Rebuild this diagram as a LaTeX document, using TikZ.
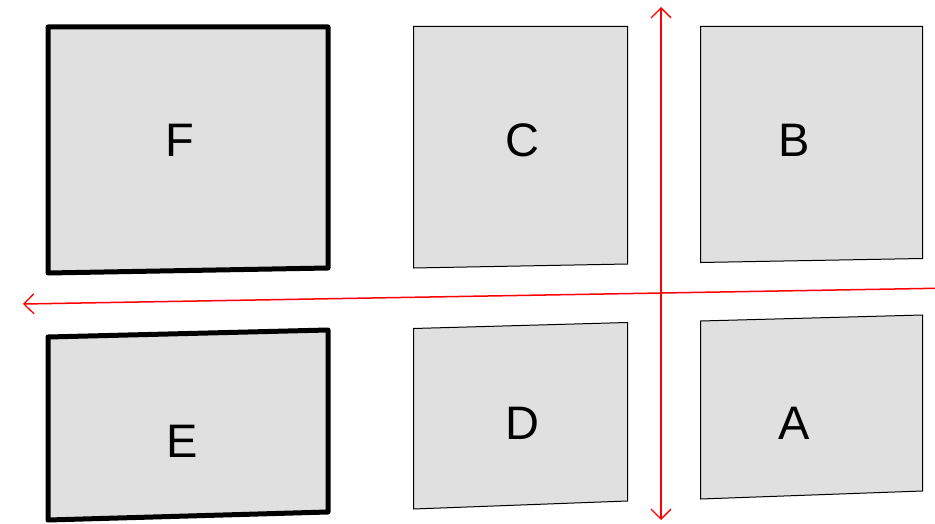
\documentclass[tikz,border=0pt]{standalone}
\usepackage{fontspec}
\setmainfont{Liberation Sans}
\usetikzlibrary{arrows.meta}
\definecolor{boxgray}{HTML}{E0E0E0}
\definecolor{axisred}{HTML}{FF0000}
\tikzset{
  thinbox/.style={fill=boxgray, draw=black, line width=1pt, line join=miter},
  thickbox/.style={fill=boxgray, draw=black, line width=5pt, line join=round},
  lbl/.style={font=\fontsize{47}{47}\selectfont, inner sep=0pt, anchor=center},
  axis/.style={draw=axisred, line width=1.5pt, -{Straight Barb[length=10pt,width=20pt,line width=1.3pt]}}
}
\begin{document}
\begin{tikzpicture}[x=1pt,y=-1pt]
\useasboundingbox (0,0) rectangle (935,524);
% boxes
\draw[thickbox] (48,27) -- (328,27) -- (328,268) -- (48,273) -- cycle;
\draw[thickbox] (48,337) -- (328,330) -- (328,512) -- (48,520) -- cycle;
\draw[thinbox] (413.5,26.5) -- (627.5,26.5) -- (627.5,264) -- (413.5,268) -- cycle;
\draw[thinbox] (413.5,328.5) -- (627.5,322.5) -- (627.5,501) -- (413.5,509) -- cycle;
\draw[thinbox] (700.5,26.5) -- (922.5,26.5) -- (922.5,258.5) -- (700.5,262.5) -- cycle;
\draw[thinbox] (700.5,321) -- (922.5,315) -- (922.5,491) -- (700.5,499) -- cycle;
% labels
\node[lbl] (F) at (180,140) {F};
\node[lbl] (E) at (182,441) {E};
\node[lbl] (C) at (522.5,140) {C};
\node[lbl] (D) at (522.5,423) {D};
\node[lbl] (B) at (794,140) {B};
\node[lbl] (A) at (794,423) {A};
% axes
\coordinate (vmid) at (661,263);
\coordinate (vtop) at (661,7);
\coordinate (vbot) at (661,520);
\coordinate (hright) at (935,288.3);
\coordinate (hleft) at (23,304);
\draw[axis] (vmid) -- (vtop);
\draw[axis] (vmid) -- (vbot);
\draw[axis] (hright) -- (hleft);
\end{tikzpicture}
\end{document}
